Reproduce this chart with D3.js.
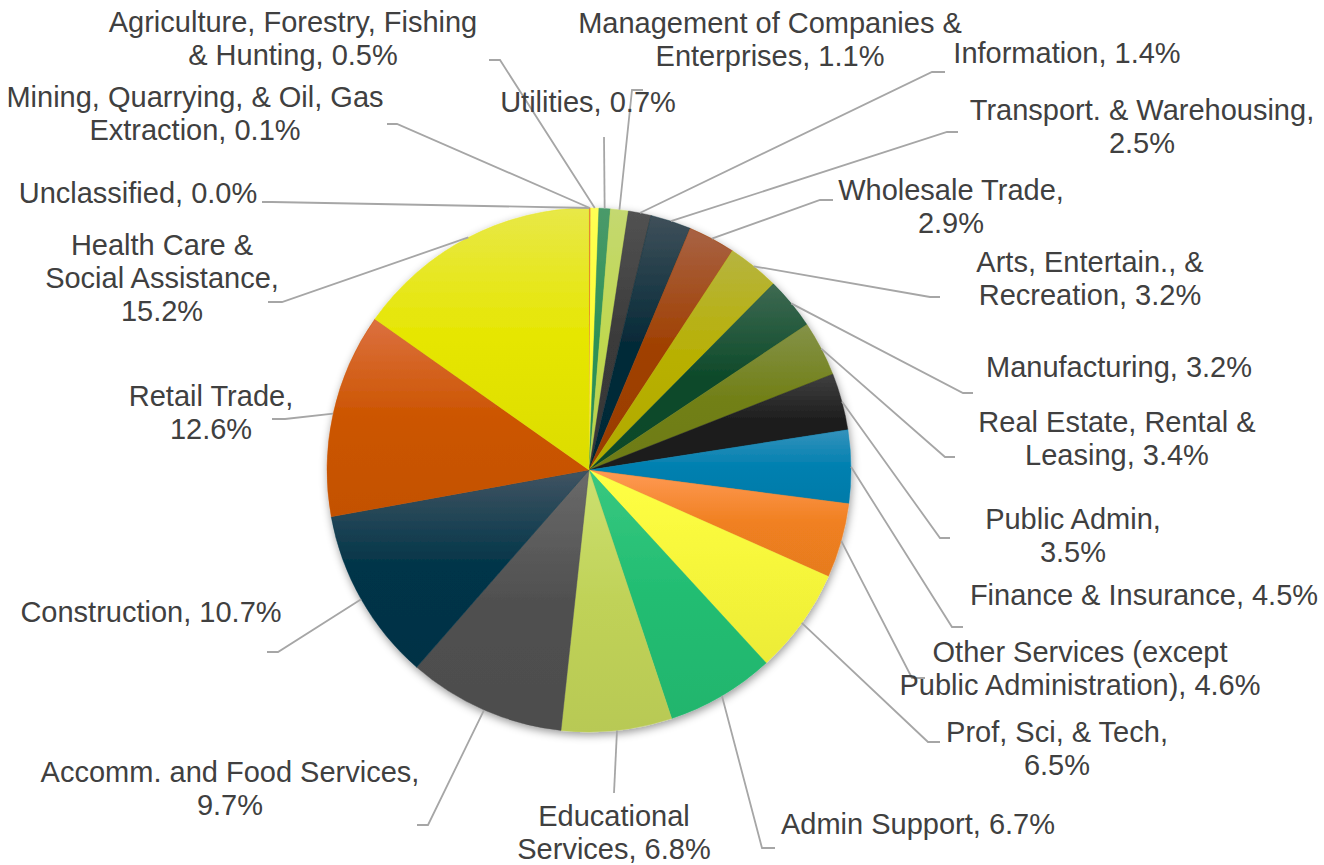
<!DOCTYPE html>
<html>
<head>
<meta charset="utf-8">
<title>Employment by Industry</title>
<script src="https://d3js.org/d3.v7.min.js"></script>
<style>
  body { margin: 0; background: #fff; }
  text {
    font-family: "Liberation Sans", Arial, sans-serif;
    font-size: 29px;
    fill: #404040;
  }
  .leader { fill: none; stroke: #a6a6a6; stroke-width: 1.8; }
</style>
</head>
<body>
<svg id="chart" width="1324" height="865"></svg>
<script>
// categories clockwise from 12 o'clock; "\n" = wrap, trailing "\n" = value on its own line
var categories = [
  "Unclassified",
  "Mining, Quarrying, & Oil, Gas\nExtraction",
  "Agriculture, Forestry, Fishing\n& Hunting",
  "Utilities",
  "Management of Companies &\nEnterprises",
  "Information",
  "Transport. & Warehousing\n",
  "Wholesale Trade\n",
  "Arts, Entertain., &\nRecreation",
  "Manufacturing",
  "Real Estate, Rental &\nLeasing",
  "Public Admin\n",
  "Finance & Insurance",
  "Other Services (except\nPublic Administration)",
  "Prof, Sci, & Tech\n",
  "Admin Support",
  "Educational\nServices",
  "Accomm. and Food Services\n",
  "Construction",
  "Retail Trade\n",
  "Health Care &\nSocial Assistance\n"
];
var shares = [0.0, 0.1, 0.5, 0.7, 1.1, 1.4, 2.5, 2.9, 3.2, 3.2, 3.4, 3.5, 4.5, 4.6, 6.5, 6.7, 6.8, 9.7, 10.7, 12.6, 15.2];

// slice colours: base and lighter top of the gradient
var baseColors = ["#5b9bd5", "#e0602a", "#ffff33", "#2e9257", "#c0d850", "#3a3a3a", "#062a38",
  "#a04000", "#b8b000", "#0e4a2a", "#728018", "#1c1c1c", "#0080b0", "#f08020", "#f6f63a",
  "#22bd72", "#c0d258", "#505050", "#003448", "#cc5500", "#e6e600"];
var topColors = ["#7aaee0", "#e87a4a", "#ffff55", "#4a9a6a", "#c4d870", "#525252", "#3f505a",
  "#a86244", "#b6b440", "#3e6a52", "#849248", "#404040", "#3592bc", "#ff9a55", "#ffff45",
  "#38c880", "#cce070", "#6a6a6a", "#415462", "#dc7040", "#e8e848"];

// label placement (centre x, first baseline) and leader elbow / end, as laid out in the original
var labelPos = [[138,203],[195,107],[293,32],[588,112],[770,33],[1067,63],[1142,120],[951,200],
  [1090,272],[1119,377],[1117,432],[1073,529],[1144,605],[1080,662],[1057,742],[918,834],
  [614,826],[230,782],[151,622],[211,406],[162,255]];
var leaderElbow = [[272,202],[397,124],[500,60],[604,137],[632,90],[932,72],[947,132],[820,200],
  [930,297],[963,393],[945,457],[940,538],[952,627],[912,678],[928,742],[762,848],
  [614,793],[428,825],[278,652],[285,419],[282,302]];
var leaderEnd = [[262,202],[387,124],[489,60],[604,137],[643,90],[945,72],[958,132],[833,200],
  [940,297],[973,393],[955,457],[950,538],[963,627],[925,678],[940,742],[775,848],
  [614,793],[417,825],[267,652],[272,419],[268,302]];

var cx = 589, cy = 470, radius = 262, lineH = 33;

var data = categories.map(function (c, i) {
  var pct = shares[i].toFixed(1) + "%";
  var txt = c.endsWith("\n") ? c.slice(0, -1) + ",\n" + pct : c + ", " + pct;
  return { name: c, value: shares[i], label: txt.split("\n"), i: i };
});

var svg = d3.select("#chart");
var defs = svg.append("defs");

var shadow = defs.append("filter").attr("id", "shadow")
  .attr("x", "-10%").attr("y", "-10%").attr("width", "120%").attr("height", "120%");
shadow.append("feDropShadow")
  .attr("dx", 1).attr("dy", 3).attr("stdDeviation", 4)
  .attr("flood-color", "#000").attr("flood-opacity", 0.4);

data.forEach(function (d) {
  var g = defs.append("linearGradient").attr("id", "grad" + d.i)
    .attr("x1", 0).attr("y1", 0).attr("x2", 0).attr("y2", 1);
  g.append("stop").attr("offset", "0%").attr("stop-color", topColors[d.i]);
  g.append("stop").attr("offset", "50%").attr("stop-color", baseColors[d.i]);
  g.append("stop").attr("offset", "100%").attr("stop-color", d3.color(baseColors[d.i]).darker(0.12));
});

var pie = d3.pie().sort(null).value(function (d) { return d.value; });
var arc = d3.arc().innerRadius(0).outerRadius(radius);
var arcs = pie(data);

var pieG = svg.append("g")
  .attr("transform", "translate(" + cx + "," + cy + ")")
  .attr("filter", "url(#shadow)");

pieG.selectAll("path")
  .data(arcs)
  .enter()
  .append("path")
  .attr("d", arc)
  .attr("fill", function (d) { return "url(#grad" + d.data.i + ")"; })
  .attr("stroke", function (d) { return baseColors[d.data.i]; })
  .attr("stroke-width", 0.4);

// leader lines: from slice mid on the rim to the elbow, then a short run to the label
svg.selectAll(".leader")
  .data(arcs)
  .enter()
  .append("polyline")
  .attr("class", "leader")
  .attr("points", function (d) {
    var a = (d.startAngle + d.endAngle) / 2;
    var px = cx + radius * Math.sin(a), py = cy - radius * Math.cos(a);
    var e = leaderElbow[d.data.i], t = leaderEnd[d.data.i];
    return [[px, py], e, t].map(function (p) { return p.join(","); }).join(" ");
  });

var labels = svg.selectAll(".lbl")
  .data(data)
  .enter()
  .append("text")
  .attr("class", "lbl")
  .attr("text-anchor", "middle");

labels.selectAll("tspan")
  .data(function (d) { return d.label.map(function (l, k) { return { t: l, k: k, i: d.i }; }); })
  .enter()
  .append("tspan")
  .attr("x", function (d) { return labelPos[d.i][0]; })
  .attr("y", function (d) { return labelPos[d.i][1] + d.k * lineH; })
  .text(function (d) { return d.t; });
</script>
</body>
</html>
